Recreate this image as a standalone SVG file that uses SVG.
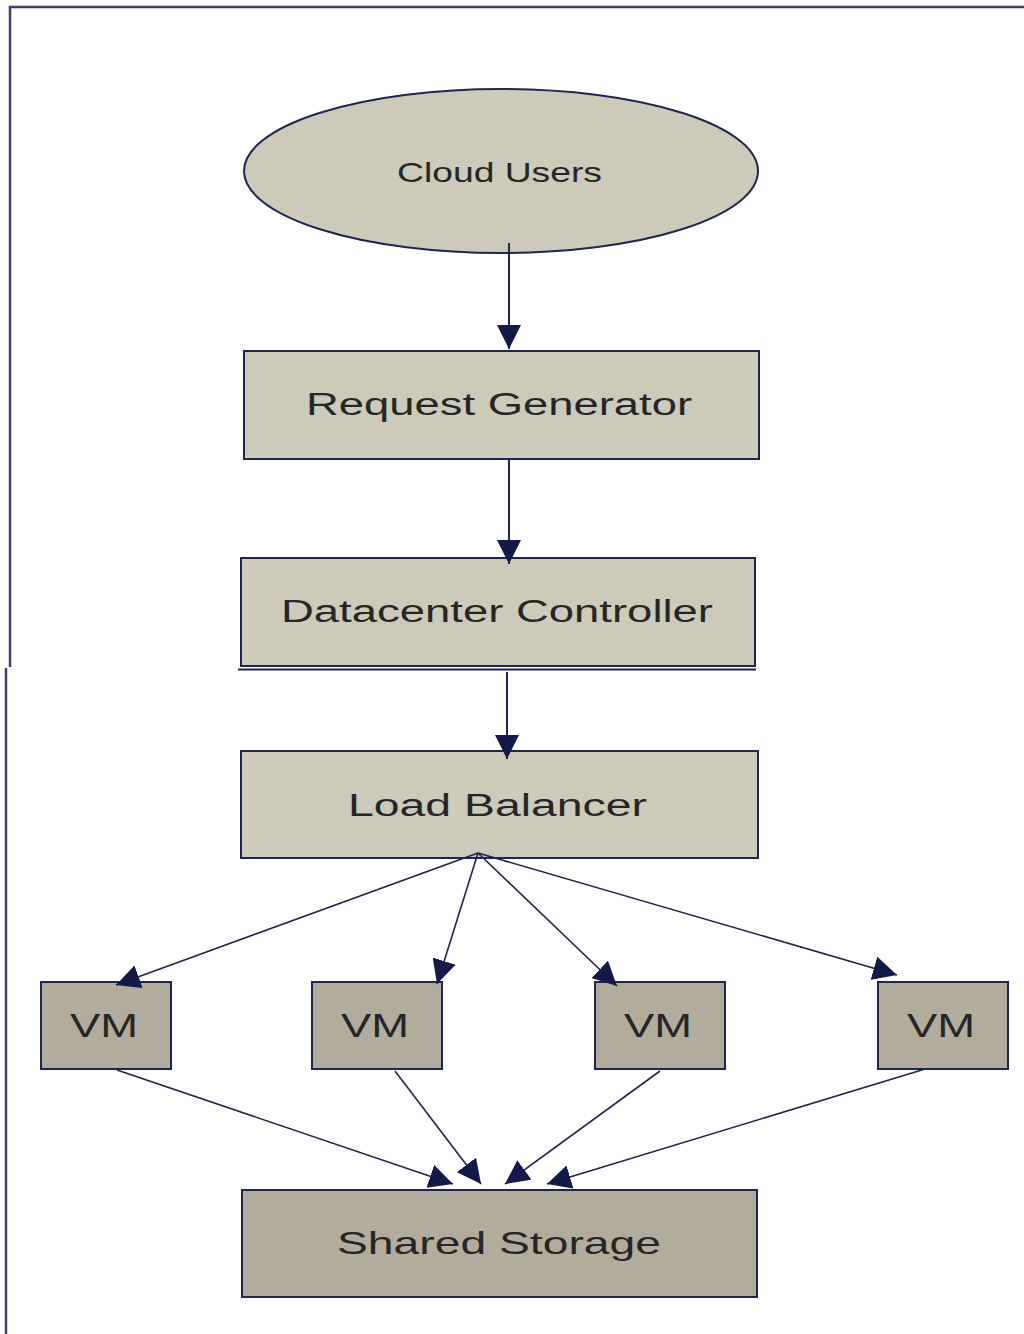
<svg xmlns="http://www.w3.org/2000/svg" width="1024" height="1334" viewBox="0 0 1024 1334">
<defs>
<style>
.lbl{font-family:"Liberation Sans",Arial,sans-serif;fill:#262626;}
.n1{fill:#cdcab9;stroke:#1f2450;stroke-width:2;}
.n2{fill:#b3ac9c;stroke:#1f2450;stroke-width:2;}
.c{stroke:#1f2450;fill:none;}
.border{stroke:#3a4070;stroke-width:2.5;fill:none;}
</style>
<marker id="ah" markerUnits="userSpaceOnUse" markerWidth="24" markerHeight="24" viewBox="0 0 20 20" refX="20" refY="10" orient="auto">
<path d="M0,0 L20,10 L0,20 Z" fill="#141a48"/>
</marker>
</defs>
<rect width="1024" height="1334" fill="#ffffff"/>
<g id="frame">
<path class="border" d="M1024,7 L10,7 L10,667"/>
<path class="border" d="M6,668 L6,1334"/>
</g>
<g id="cloud-users">
<ellipse class="n1" cx="501" cy="171" rx="257" ry="82"/>
<text class="lbl" x="397" y="182" font-size="28" textLength="205" lengthAdjust="spacingAndGlyphs">Cloud Users</text>
</g>
<g id="request-generator">
<rect class="n1" x="244" y="351" width="515" height="108"/>
<text class="lbl" x="306" y="415" font-size="31" textLength="386" lengthAdjust="spacingAndGlyphs">Request Generator</text>
</g>
<g id="datacenter-controller">
<rect class="n1" x="241" y="558" width="514" height="108"/>
<line x1="238" y1="669.5" x2="756" y2="669.5" stroke="#1f2450" stroke-width="2"/>
<text class="lbl" x="281" y="622" font-size="31" textLength="432" lengthAdjust="spacingAndGlyphs">Datacenter Controller</text>
</g>
<g id="load-balancer">
<rect class="n1" x="241" y="751" width="517" height="107"/>
<text class="lbl" x="348" y="816" font-size="31" textLength="299" lengthAdjust="spacingAndGlyphs">Load Balancer</text>
</g>
<g id="vm1">
<rect class="n2" x="41" y="982" width="130" height="87"/>
<text class="lbl" x="70" y="1037" font-size="33" textLength="68" lengthAdjust="spacingAndGlyphs">VM</text>
</g>
<g id="vm2">
<rect class="n2" x="312" y="982" width="130" height="87"/>
<text class="lbl" x="341" y="1037" font-size="33" textLength="68" lengthAdjust="spacingAndGlyphs">VM</text>
</g>
<g id="vm3">
<rect class="n2" x="595" y="982" width="130" height="87"/>
<text class="lbl" x="624" y="1037" font-size="33" textLength="68" lengthAdjust="spacingAndGlyphs">VM</text>
</g>
<g id="vm4">
<rect class="n2" x="878" y="982" width="130" height="87"/>
<text class="lbl" x="907" y="1037" font-size="33" textLength="68" lengthAdjust="spacingAndGlyphs">VM</text>
</g>
<g id="shared-storage">
<rect class="n2" x="242" y="1190" width="515" height="107"/>
<text class="lbl" x="337" y="1254" font-size="32" textLength="324" lengthAdjust="spacingAndGlyphs">Shared Storage</text>
</g>
<g id="connectors">
<line class="c" stroke-width="2" x1="509" y1="243" x2="509" y2="349" marker-end="url(#ah)"/>
<line class="c" stroke-width="2" x1="509" y1="460" x2="509" y2="564" marker-end="url(#ah)"/>
<line class="c" stroke-width="2" x1="507" y1="672" x2="507" y2="759" marker-end="url(#ah)"/>
<line class="c" stroke-width="1.6" x1="478" y1="853" x2="116" y2="985" marker-end="url(#ah)"/>
<line class="c" stroke-width="1.6" x1="478" y1="853" x2="437" y2="984" marker-end="url(#ah)"/>
<line class="c" stroke-width="1.6" x1="478" y1="853" x2="617" y2="986" marker-end="url(#ah)"/>
<line class="c" stroke-width="1.6" x1="478" y1="853" x2="897" y2="975" marker-end="url(#ah)"/>
<line class="c" stroke-width="1.6" x1="117" y1="1070" x2="453" y2="1184" marker-end="url(#ah)"/>
<line class="c" stroke-width="1.6" x1="395" y1="1071" x2="481" y2="1184" marker-end="url(#ah)"/>
<line class="c" stroke-width="1.6" x1="660" y1="1071" x2="505" y2="1184" marker-end="url(#ah)"/>
<line class="c" stroke-width="1.6" x1="925" y1="1069" x2="547" y2="1184" marker-end="url(#ah)"/>
</g>
</svg>
